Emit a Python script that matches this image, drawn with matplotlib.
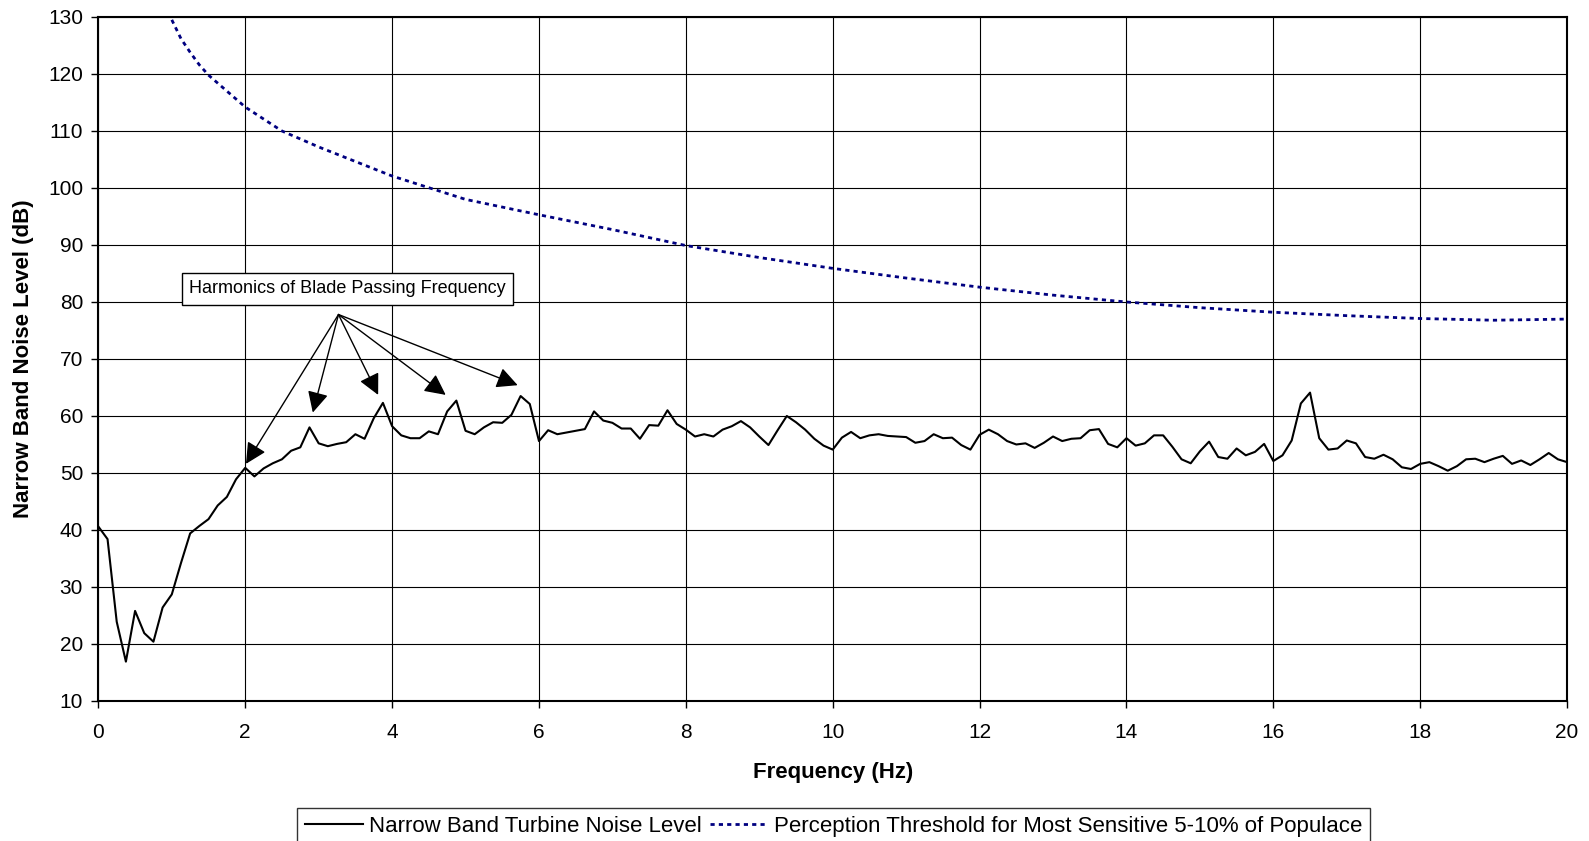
import numpy as np
import matplotlib
matplotlib.use('Agg')
import matplotlib.pyplot as plt

plt.rcParams['font.family'] = ['Liberation Sans', 'DejaVu Sans']

# narrow band turbine noise, 0.125 Hz steps from 0 to 20 Hz
noise_db = [
    40.6, 38.4, 23.9, 16.9, 25.8, 21.9, 20.4, 26.4, 28.7, 34.2, 39.4, 40.7,
    41.9, 44.3, 45.8, 48.9, 50.9, 49.4, 50.8, 51.7, 52.4, 53.9, 54.5, 58.0,
    55.2, 54.7, 55.1, 55.4, 56.8, 56.0, 59.6, 62.3, 58.2, 56.6, 56.1, 56.1,
    57.3, 56.8, 60.8, 62.7, 57.4, 56.8, 58.0, 58.9, 58.8, 60.2, 63.5, 62.1,
    55.6, 57.5, 56.8, 57.1, 57.4, 57.7, 60.8, 59.2, 58.8, 57.8, 57.8, 56.0,
    58.4, 58.3, 61.0, 58.6, 57.6, 56.4, 56.8, 56.4, 57.6, 58.2, 59.1, 58.0,
    56.4, 54.9, 57.5, 60.0, 58.9, 57.6, 56.0, 54.8, 54.1, 56.2, 57.2, 56.1,
    56.6, 56.8, 56.5, 56.4, 56.3, 55.3, 55.6, 56.8, 56.1, 56.2, 54.9, 54.1,
    56.7, 57.6, 56.8, 55.6, 55.0, 55.2, 54.4, 55.3, 56.4, 55.6, 56.0, 56.1,
    57.5, 57.7, 55.1, 54.5, 56.1, 54.8, 55.2, 56.6, 56.6, 54.6, 52.4, 51.7,
    53.8, 55.5, 52.8, 52.5, 54.3, 53.1, 53.7, 55.1, 52.1, 53.1, 55.7, 62.2,
    64.1, 56.1, 54.1, 54.3, 55.7, 55.2, 52.8, 52.5, 53.2, 52.4, 51.0, 50.7,
    51.6, 51.9, 51.2, 50.4, 51.2, 52.4, 52.5, 51.9, 52.5, 53.0, 51.6, 52.2,
    51.4, 52.4, 53.5, 52.4, 51.9,
]
noise_hz = np.arange(len(noise_db)) * 0.125

# perception threshold
thresh_hz = [1.0, 1.125, 1.25, 1.375, 1.5, 1.75, 2.0, 2.5, 3.0, 4.0, 5.0, 6.0,
             7.0, 8.0, 9.0, 10.0, 11.0, 12.0, 13.0, 14.0, 15.0, 16.0, 17.0,
             18.0, 19.0, 20.0]
thresh_db = [129.5, 126.2, 123.8, 121.6, 119.8, 117.0, 114.2, 110.0, 107.2,
             102.1, 98.0, 95.3, 92.7, 89.9, 87.8, 85.9, 84.2, 82.6, 81.2,
             80.0, 79.0, 78.2, 77.6, 77.1, 76.8, 77.0]

# harmonic peaks pointed at by the arrows
harm_hz = [2.01, 2.92, 3.81, 4.73, 5.71]
harm_db = [51.6, 60.6, 63.7, 63.7, 65.4]
arrow_src = (3.27, 77.8)

fig = plt.figure(figsize=(15.89, 8.41), dpi=100)
ax = fig.add_axes([0.0619, 0.1665, 0.9243, 0.8133])

ax.plot(noise_hz, noise_db, color='black', lw=1.5,
        label='Narrow Band Turbine Noise Level')
ax.plot(thresh_hz, thresh_db, color='#000080', lw=2, linestyle=(0, (1.5, 1.5)),
        label='Perception Threshold for Most Sensitive 5-10% of Populace')

ax.set_xlim(0, 20)
ax.set_ylim(10, 130)
ax.set_xticks(range(0, 21, 2))
ax.set_yticks(range(10, 131, 10))
ax.grid(True, color='black', lw=0.8)
ax.set_axisbelow(True)
ax.tick_params(direction='out', length=5, width=1, labelsize=15)
ax.tick_params(axis='x', pad=11)
ax.tick_params(axis='y', pad=6)
for s in ax.spines.values():
    s.set_linewidth(1.5)

ax.set_xlabel('Frequency (Hz)', fontsize=16, fontweight='bold')
ax.set_ylabel('Narrow Band Noise Level (dB)', fontsize=16, fontweight='bold')
ax.xaxis.set_label_coords(0.5, -0.089)
ax.yaxis.set_label_coords(-0.0436, 0.5)

# arrows to the blade passing harmonics
for hx, hy in zip(harm_hz, harm_db):
    ax.annotate('', xy=(hx, hy), xytext=arrow_src,
                arrowprops=dict(arrowstyle='-|>', color='black', lw=1,
                                mutation_scale=32, shrinkA=0, shrinkB=0))
ax.text(3.39, 82.3, 'Harmonics of Blade Passing Frequency', fontsize=13,
        va='center', ha='center',
        bbox=dict(boxstyle='square,pad=0.4', fc='white', ec='black', lw=1))

leg = fig.legend(loc='upper center', bbox_to_anchor=(0.5246, 0.039), ncol=2,
                 fontsize=16, frameon=True, fancybox=False, edgecolor='black',
                 handlelength=2.6, handletextpad=0.25, columnspacing=0.4,
                 borderpad=0.35, borderaxespad=0)
leg.get_frame().set_linewidth(1)

fig.savefig('out.png', dpi=100)
